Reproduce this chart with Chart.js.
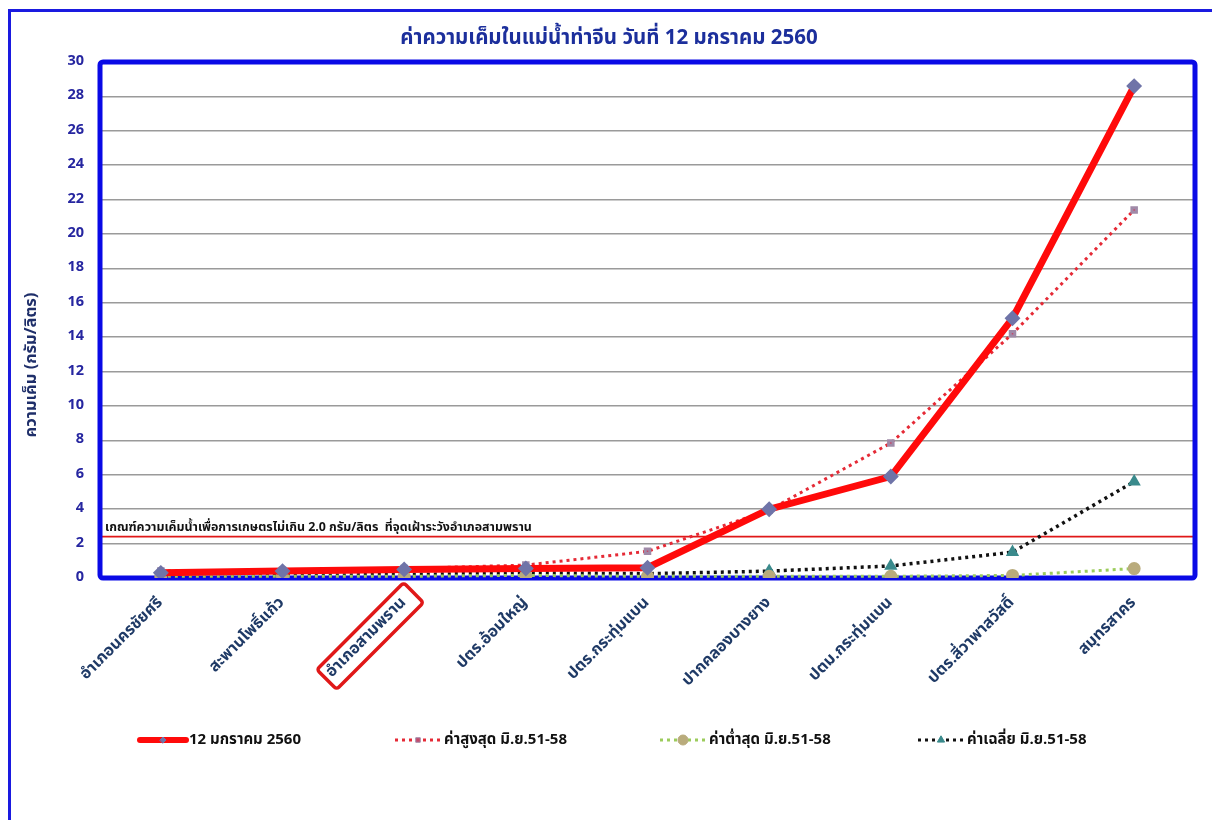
<!DOCTYPE html>
<html>
<head>
<meta charset="utf-8">
<script src="https://cdn.jsdelivr.net/npm/chart.js@4.4.1/dist/chart.umd.min.js"></script>
<style>
  html, body { margin: 0; padding: 0; background: #fff; }
  #wrap { width: 1212px; height: 820px; position: relative; }
</style>
</head>
<body>
<div id="wrap"><canvas id="c" width="1212" height="820"></canvas></div>
<script>
// Stations along the Tha Chin river, upstream to the river mouth
const stations = [
  'อำเภอนครชัยศรี',
  'สะพานโพธิ์แก้ว',
  'อำเภอสามพราน',
  'ปตร.อ้อมใหญ่',
  'ปตร.กระทุ่มแบน',
  'ปากคลองบางยาง',
  'ปตม.กระทุ่มแบน',
  'ปตร.สี่วาพาสวัสดิ์',
  'สมุทรสาคร'
];

// Salinity, grams per litre
const today = [0.3, 0.4, 0.5, 0.55, 0.6, 4.0, 5.9, 15.1, 28.6];
const maxJun51to58 = [0.4, 0.45, 0.55, 0.75, 1.55, 3.95, 7.85, 14.2, 21.4];
const minJun51to58 = [0.1, 0.1, 0.1, 0.15, 0.1, 0.1, 0.1, 0.15, 0.55];
const avgJun51to58 = [0.15, 0.15, 0.2, 0.3, 0.25, 0.4, 0.7, 1.5, 5.6];

const seriesNames = ['12 มกราคม 2560', 'ค่าสูงสุด มิ.ย.51-58', 'ค่าต่ำสุด มิ.ย.51-58', 'ค่าเฉลี่ย มิ.ย.51-58'];

const yTicks = [0, 2, 4, 6, 8, 10, 12, 14, 16, 18, 20, 22, 24, 26, 28, 30];

// Agricultural salinity limit marked at the Sam Phran watch point
const thresholdValue = 2.4;
const thresholdText = 'เกณฑ์ความเค็มน้ำเพื่อการเกษตรไม่เกิน 2.0 กรัม/ลิตร  ที่จุดเฝ้าระวังอำเภอสามพราน';

const titleText = 'ค่าความเค็มในแม่น้ำท่าจีน วันที่ 12 มกราคม 2560';
const yTitleText = 'ความเค็ม (กรัม/ลิตร)';
const highlightedStation = 2;

const THAI = "Tahoma, 'Noto Sans Thai', 'Noto Sans', 'DejaVu Sans', sans-serif";
const XFONT = 16;

const framePlugin = {
  id: 'frame',
  beforeDraw(chart) {
    const ctx = chart.ctx;
    ctx.save();
    ctx.fillStyle = '#ffffff';
    ctx.fillRect(0, 0, chart.width, chart.height);
    ctx.strokeStyle = '#1a1ae0';
    ctx.lineWidth = 3;
    ctx.beginPath();
    ctx.moveTo(9.5, chart.height);
    ctx.lineTo(9.5, 10.5);
    ctx.lineTo(chart.width, 10.5);
    ctx.stroke();

    // title
    ctx.fillStyle = '#1c2f9c';
    ctx.font = "bold 20.5px " + THAI;
    ctx.textAlign = 'center';
    ctx.textBaseline = 'middle';
    ctx.fillText(titleText, 609, 40);

    // y axis title
    ctx.translate(33, 365);
    ctx.rotate(-Math.PI / 2);
    ctx.fillStyle = '#1f2f6a';
    ctx.font = "bold 16.5px " + THAI;
    ctx.fillText(yTitleText, 0, 0);
    ctx.restore();
  },
  beforeDatasetsDraw(chart) {
    const ctx = chart.ctx;
    const a = chart.chartArea;
    const y = chart.scales.y.getPixelForValue(thresholdValue);
    ctx.save();
    // threshold line and its caption
    ctx.strokeStyle = '#e01818';
    ctx.lineWidth = 1.8;
    ctx.beginPath();
    ctx.moveTo(a.left, y);
    ctx.lineTo(a.right, y);
    ctx.stroke();
    ctx.fillStyle = '#111';
    ctx.font = "bold 12.4px " + THAI;
    ctx.textAlign = 'left';
    ctx.textBaseline = 'alphabetic';
    ctx.fillText(thresholdText, a.left + 5, y - 6);

    // plot frame
    ctx.strokeStyle = '#0a0ae6';
    ctx.lineWidth = 5;
    ctx.beginPath();
    ctx.roundRect(a.left, a.top, a.right - a.left, a.bottom - a.top, 3);
    ctx.stroke();
    ctx.restore();
  },
  afterDraw(chart) {
    const ctx = chart.ctx;
    const xs = chart.scales.x;
    const a = chart.chartArea;
    ctx.save();
    // red box round the watch-point station label
    ctx.font = "bold " + XFONT + "px " + THAI;
    const w = ctx.measureText(stations[highlightedStation]).width;
    const px = xs.getPixelForTick(highlightedStation);
    ctx.translate(px + 3, a.bottom + 21);
    ctx.rotate(-Math.PI / 4);
    ctx.strokeStyle = '#e01818';
    ctx.lineWidth = 3.5;
    ctx.beginPath();
    ctx.roundRect(-w - 8, -14, w + 17, 28, 3);
    ctx.stroke();
    ctx.restore();

    // legend
    const items = chart.data.datasets;
    const lx = [140, 395, 660, 918];
    const ly = 740;
    ctx.save();
    items.forEach((ds, i) => {
      const x0 = lx[i], x1 = x0 + 46;
      ctx.strokeStyle = ds.borderColor;
      ctx.lineWidth = i === 0 ? 6 : 3;
      ctx.lineCap = i === 0 ? 'round' : 'butt';
      ctx.setLineDash(ds.borderDash || []);
      ctx.beginPath();
      ctx.moveTo(x0, ly);
      ctx.lineTo(x1, ly);
      ctx.stroke();
      ctx.setLineDash([]);
      ctx.fillStyle = ds.pointBackgroundColor;
      ctx.strokeStyle = ds.pointBorderColor;
      ctx.lineWidth = 1;
      Chart.helpers.drawPoint(ctx, {
        pointStyle: ds.pointStyle,
        radius: ds.pointRadius,
        rotation: 0,
        borderWidth: 1
      }, (x0 + x1) / 2, ly);
      ctx.fillStyle = '#111';
      ctx.font = "bold 15px " + THAI;
      ctx.textAlign = 'left';
      ctx.textBaseline = 'middle';
      ctx.fillText(ds.label, x1 + 3, ly + 1);
    });
    ctx.restore();
  }
};

new Chart(document.getElementById('c'), {
  type: 'line',
  data: {
    labels: stations,
    datasets: [
      {
        label: seriesNames[0], data: today,
        borderColor: '#ff0a0a', borderWidth: 7,
        pointStyle: 'rectRot', pointRadius: 3,
        pointBackgroundColor: '#6f74a8', pointBorderColor: '#6f74a8',
        tension: 0
      },
      {
        label: seriesNames[1], data: maxJun51to58,
        borderColor: '#e52a36', borderWidth: 3, borderDash: [3, 4],
        pointStyle: 'rect', pointRadius: 3.2,
        pointBackgroundColor: '#c44a6a', pointBorderColor: '#a08aa8',
        tension: 0
      },
      {
        label: seriesNames[2], data: minJun51to58,
        borderColor: '#9ccc5c', borderWidth: 3, borderDash: [3, 4],
        pointStyle: 'circle', pointRadius: 5,
        pointBackgroundColor: '#b9ab7c', pointBorderColor: '#b9ab7c',
        tension: 0
      },
      {
        label: seriesNames[3], data: avgJun51to58,
        borderColor: '#111111', borderWidth: 3.5, borderDash: [3, 4],
        pointStyle: 'triangle', pointRadius: 4.2,
        pointBackgroundColor: '#3a8a8c', pointBorderColor: '#3a8a8c',
        tension: 0
      }
    ]
  },
  options: {
    responsive: false,
    animation: false,
    layout: { padding: { top: 62, right: 17, bottom: 122, left: 0 } },
    plugins: {
      legend: { display: false },
      title: { display: false },
      tooltip: { enabled: false }
    },
    scales: {
      x: {
        offset: true,
        grid: { display: false },
        border: { display: false },
        afterFit(s) { s.height = 120; },
        ticks: {
          autoSkip: false,
          minRotation: 45, maxRotation: 45,
          padding: 8,
          color: '#1f3a66',
          font: { family: THAI, size: XFONT, weight: 'bold' }
        }
      },
      y: {
        min: 0, max: 30,
        afterFit(s) { s.width = 100; },
        afterBuildTicks(s) { s.ticks = yTicks.map(v => ({ value: v })); },
        grid: { color: '#9a9a9a', lineWidth: 1.6, drawTicks: false },
        border: { display: false },
        ticks: {
          padding: 16,
          color: '#2626a0',
          font: { family: THAI, size: 14.5, weight: 'bold' }
        }
      }
    }
  },
  plugins: [framePlugin]
});
</script>
</body>
</html>
